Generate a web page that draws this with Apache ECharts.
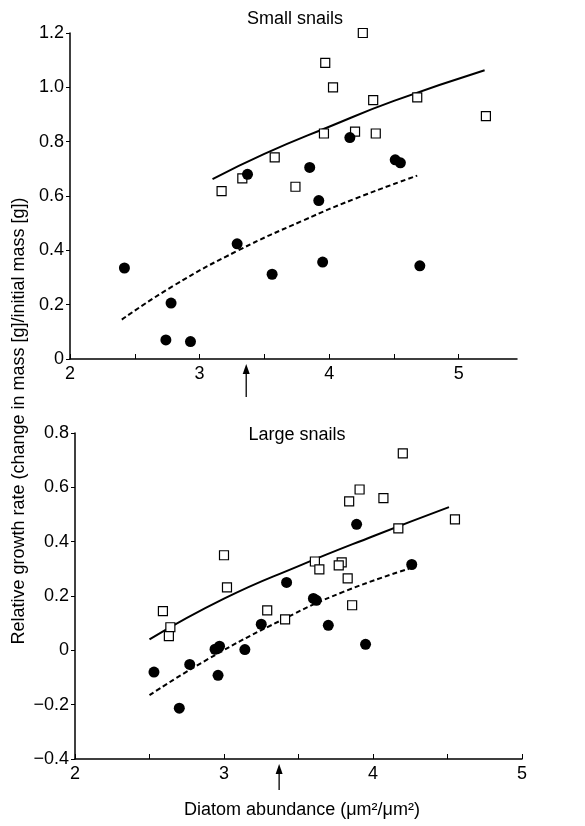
<!DOCTYPE html>
<html>
<head>
<meta charset="utf-8">
<title></title>
<script type="text/javascript" src="https://cdn.jsdelivr.net/npm/echarts@6/dist/echarts.min.js"></script>
<style>
html, body { margin: 0; padding: 0; background: #fff; }
</style>
</head>
<body>

<div id="main" style="width: 585px;height:826px;"></div>

<script type="text/javascript">

// x = diatom abundance, y = relative growth rate
let SMALL_OPEN = [[4.26,1.20],[3.97,1.09],[4.03,1.00],[4.34,0.953],[4.68,0.963],[5.21,0.894],[3.96,0.83],
	[4.20,0.837],[4.36,0.83],[3.58,0.742],[3.33,0.665],[3.74,0.634],[3.17,0.618]];
let SMALL_FILLED = [[3.37,0.68],[3.85,0.705],[4.16,0.815],[4.51,0.733],[4.55,0.722],[3.92,0.583],[2.42,0.335],
	[3.29,0.424],[3.56,0.312],[3.95,0.357],[4.70,0.343],[2.78,0.206],[2.74,0.07],[2.93,0.064]];
let SMALL_OPEN_FIT = [[3.1,0.662],[3.5,0.755],[4.0,0.855],[4.5,0.95],[5.2,1.063]];
let SMALL_FILLED_FIT = [[2.4,0.145],[2.8,0.27],[3.3,0.40],[3.8,0.51],[4.2,0.59],[4.68,0.675]];

let LARGE_OPEN = [[4.20,0.725],[3.91,0.592],[3.84,0.548],[4.07,0.56],[4.55,0.482],[4.17,0.449],[3.00,0.35],
	[3.61,0.327],[3.79,0.324],[3.77,0.313],[3.64,0.298],[3.83,0.265],[3.02,0.232],[2.59,0.144],[2.64,0.085],
	[2.63,0.052],[3.29,0.147],[3.41,0.114],[3.86,0.166]];
let LARGE_FILLED = [[3.89,0.464],[4.26,0.316],[3.42,0.25],[3.60,0.191],[3.62,0.184],[3.25,0.096],[3.70,0.092],
	[3.95,0.022],[2.94,0.004],[2.97,0.015],[3.14,0.003],[2.53,-0.08],[2.77,-0.052],[2.96,-0.092],[2.70,-0.213]];
let LARGE_OPEN_FIT = [[2.5,0.04],[3.0,0.19],[3.5,0.31],[4.0,0.42],[4.51,0.527]];
let LARGE_FILLED_FIT = [[2.5,-0.165],[2.9,-0.03],[3.4,0.115],[3.8,0.215],[4.24,0.30]];

let X_TICKS = [2, 2.5, 3, 3.5, 4, 4.5, 5];
let X_LABELS = [2, 3, 4, 5];
let ARROW_X = [3.36, 3.37];

const FONT = '"Liberation Sans", Arial, Helvetica, sans-serif';

function xAxis(grid, max){
	return {
		type: 'value', gridIndex: grid, min: 2, max: max,
		axisLine: { onZero: false, lineStyle: { color: '#000', width: 1.5 } },
		axisTick: { inside: true, length: 5, customValues: X_TICKS, lineStyle: { color: '#000' } },
		axisLabel: { customValues: X_LABELS, color: '#000', fontSize: 18, fontFamily: FONT, margin: 6 },
		splitLine: { show: false }
	};
}
function yAxis(grid, min, max){
	return {
		type: 'value', gridIndex: grid, min: min, max: max, interval: 0.2,
		axisLine: { show: true, onZero: false, lineStyle: { color: '#000', width: 1.5 } },
		axisTick: { show: true, length: 4, lineStyle: { color: '#000' } },
		axisLabel: {
			color: '#000', fontSize: 18, fontFamily: FONT, margin: 6,
			formatter: (v) => {
				let s = Math.abs(v) < 1e-9 ? '0' : v.toFixed(1);
				return s.replace('-', '\u2212');
			}
		},
		splitLine: { show: false }
	};
}
function openPts(grid, data){
	return { type: 'scatter', xAxisIndex: grid, yAxisIndex: grid, data: data, symbol: 'rect', symbolSize: 9,
		itemStyle: { color: '#fff', borderColor: '#000', borderWidth: 1.2, opacity: 1 }, z: 3 };
}
function filledPts(grid, data){
	return { type: 'scatter', xAxisIndex: grid, yAxisIndex: grid, data: data, symbol: 'circle', symbolSize: 11,
		itemStyle: { color: '#000', opacity: 1 }, z: 4 };
}
function fit(grid, data, dashed){
	return { type: 'line', xAxisIndex: grid, yAxisIndex: grid, data: data, smooth: true, showSymbol: false,
		lineStyle: { color: '#000', width: 2, type: dashed ? [5, 3] : 'solid' }, z: 2 };
}

var myChart = echarts.init(document.getElementById('main'), null, { renderer: 'canvas' });

var option = {
	animation: false,
	backgroundColor: '#fff',
	grid: [
		{ left: 70, top: 33, width: 447, height: 326 },
		{ left: 75, top: 433, width: 447, height: 326 }
	],
	xAxis: [xAxis(0, 5.45), xAxis(1, 5)],
	yAxis: [yAxis(0, 0, 1.2), yAxis(1, -0.4, 0.8)],
	series: [
		fit(0, SMALL_OPEN_FIT, false), fit(0, SMALL_FILLED_FIT, true),
		openPts(0, SMALL_OPEN), filledPts(0, SMALL_FILLED),
		fit(1, LARGE_OPEN_FIT, false), fit(1, LARGE_FILLED_FIT, true),
		openPts(1, LARGE_OPEN), filledPts(1, LARGE_FILLED)
	]
};
myChart.setOption(option);

// titles, shared y label, x label and the arrows under each axis
let g = [
	{ type: 'text', x: 295, y: 19, style: { text: 'Small snails', font: '18px ' + FONT, fill: '#000', align: 'center', verticalAlign: 'middle' } },
	{ type: 'text', x: 297, y: 435, style: { text: 'Large snails', font: '18px ' + FONT, fill: '#000', align: 'center', verticalAlign: 'middle' } },
	{ type: 'text', x: 302, y: 810, style: { text: 'Diatom abundance (\u03bcm\u00b2/\u03bcm\u00b2)', font: '18px ' + FONT, fill: '#000', align: 'center', verticalAlign: 'middle' } },
	{ type: 'text', x: 19, y: 421, rotation: Math.PI / 2, style: { text: 'Relative growth rate (change in mass [g]/initial mass [g])', font: '18px ' + FONT, fill: '#000', align: 'center', verticalAlign: 'middle' } }
];
[[0, 0, 33], [1, -0.4, 26]].forEach((a, i) => {
	let p = myChart.convertToPixel({ gridIndex: a[0] }, [ARROW_X[i], a[1]]);
	let tip = p[1] + 5;
	g.push({ type: 'line', shape: { x1: p[0], y1: tip + 6, x2: p[0], y2: tip + a[2] }, style: { stroke: '#000', lineWidth: 1.3 } });
	g.push({ type: 'polygon', shape: { points: [[p[0], tip], [p[0] - 3.5, tip + 10], [p[0] + 3.5, tip + 10]] }, style: { fill: '#000' } });
});
myChart.setOption({ graphic: g });

</script>

</body>
</html>
